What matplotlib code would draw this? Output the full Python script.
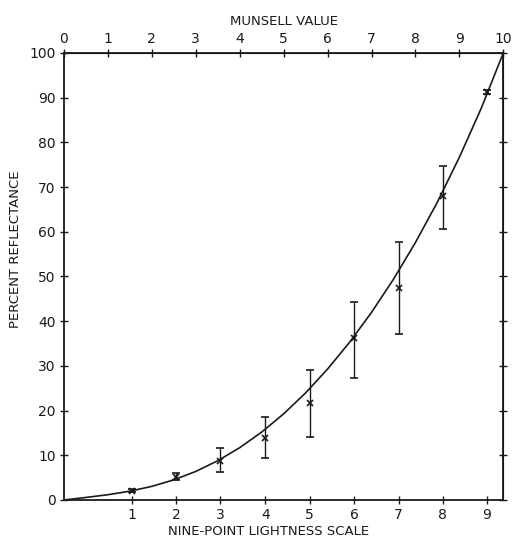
import numpy as np
from matplotlib import pyplot as plt

# curve, in Munsell value units
munsell = [0, 0.5, 1, 1.5, 2, 2.5, 3, 3.5, 4, 4.5, 5, 5.5, 6, 6.5, 7, 7.5, 8, 8.5, 9, 9.5, 10]
curve = [0, 0.57, 1.18, 1.97, 3.05, 4.5, 6.39, 8.78, 11.7, 15.19, 19.27, 23.96,
         29.29, 35.27, 41.97, 49.38, 57.6, 66.64, 76.67, 87.67, 100]

# nine-point scale steps and where they sit on the Munsell axis
ninept = [1, 2, 3, 4, 5, 6, 7, 8, 9]
ninept_pos = [1.55, 2.55, 3.56, 4.58, 5.59, 6.61, 7.62, 8.62, 9.62]
refl = [2.1, 5.2, 8.7, 13.8, 21.8, 36.2, 47.4, 67.9, 91.3]
err_lo = [0.3, 0.7, 2.4, 4.5, 7.8, 8.8, 10.3, 7.3, 0.4]
err_hi = [0.3, 0.9, 3.0, 4.8, 7.3, 8.2, 10.4, 6.8, 0.4]

ink = "#1a1a1a"
plt.rcParams['font.family'] = ['DejaVu Sans']

fig = plt.figure(figsize=(5.12, 5.45), dpi=100)
ax = fig.add_axes([0.125, 0.0826, 0.858, 0.8202])

ax.plot(munsell, curve, color=ink, lw=1.2, clip_on=False)
ax.errorbar(ninept_pos, refl, yerr=[err_lo, err_hi], fmt='x', color=ink,
            ms=5, mew=1.2, elinewidth=1.0, capsize=3, capthick=1.0)

ax.set_xlim(0, 10)
ax.set_ylim(0, 100)

ax.set_xticks(ninept_pos)
ax.set_xticklabels([str(n) for n in ninept])
ax.set_yticks(range(0, 101, 10))

ax.tick_params(direction='inout', length=6, width=1, colors=ink,
               labelsize=10, pad=3)
for s in ax.spines.values():
    s.set_color(ink)
    s.set_linewidth(1.3)

top = ax.secondary_xaxis('top')
top.set_xticks(range(0, 11))
top.tick_params(direction='inout', length=6, width=1, colors=ink,
                labelsize=10, pad=2)
top.set_xlabel("MUNSELL VALUE", fontsize=9.5, color=ink, labelpad=5)

right = ax.secondary_yaxis('right')
right.set_yticks(range(0, 101, 10))
right.set_yticklabels([])
right.tick_params(direction='inout', length=6, width=1, colors=ink)

ax.set_xlabel("NINE-POINT LIGHTNESS SCALE", fontsize=9.5, color=ink, labelpad=2)
ax.xaxis.set_label_coords(0.465, -0.055)
ax.set_ylabel("PERCENT REFLECTANCE", fontsize=9.5, color=ink, labelpad=4)
ax.yaxis.set_label_coords(-0.095, 0.56)

fig.savefig("out.png", dpi=100)
